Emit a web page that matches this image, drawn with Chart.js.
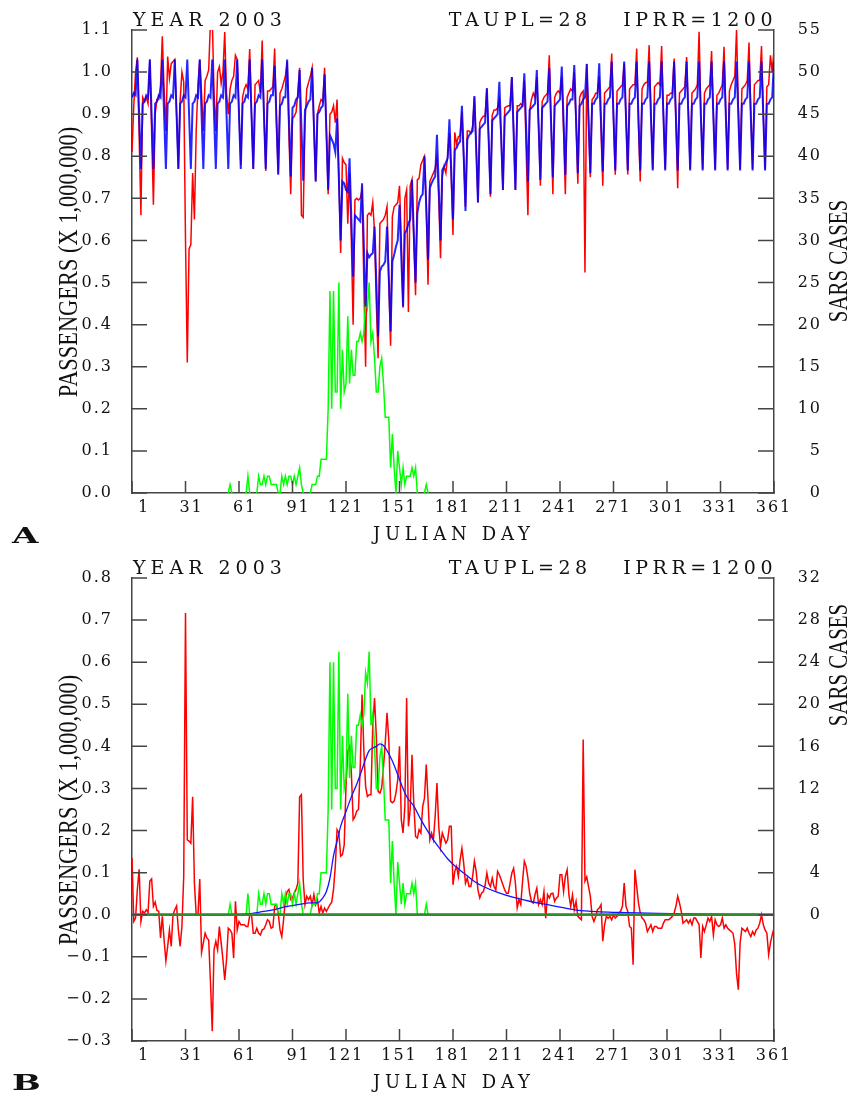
<!DOCTYPE html>
<html lang="en">
<head>
<meta charset="UTF-8">
<title>SARS and air passengers, 2003</title>
<script src="https://cdn.jsdelivr.net/npm/chart.js@4"></script>
<style>
  body { margin: 0; background: #fff; }
  .page { position: relative; width: 855px; height: 1095px; overflow: hidden; }
  canvas { position: absolute; left: 0; }
  .lbl { position: absolute; font-family: "DejaVu Serif", serif; color: #111; white-space: pre; line-height: 1; }
  .head { font-size: 19px; letter-spacing: 4.5px; }
  .year { letter-spacing: 5px; }
  .axt { font-size: 18px; letter-spacing: 4.7px; }
  .panel { font-size: 22px; font-weight: bold; transform: scaleX(1.55); transform-origin: left top; }
  .rot { position: absolute; font-family: "Liberation Serif", serif; font-size: 28px; line-height: 1; color: #111; white-space: nowrap; }
</style>
</head>
<body>
<div class="page">
  <canvas id="chartA" width="855" height="550" style="top:0"></canvas>
  <canvas id="chartB" width="855" height="545" style="top:550px"></canvas>

  <!-- panel A labels -->
  <div class="lbl head year" style="left:133px; top:10px">YEAR 2003</div>
  <div class="lbl head" style="right:78px; top:10px">TAUPL=28   IPRR=1200</div>
  <div class="lbl panel" style="left:12px; top:524px">A</div>
  <div class="lbl axt" style="left:373px; top:525px">JULIAN DAY</div>
  <div class="rot" style="left:68px; top:262px; transform:translate(-50%,-50%) rotate(-90deg) scaleX(0.8)">PASSENGERS (X 1,000,000)</div>
  <div class="rot" style="left:838px; top:261px; transform:translate(-50%,-50%) rotate(-90deg) scaleX(0.745)">SARS CASES</div>

  <!-- panel B labels -->
  <div class="lbl head year" style="left:133px; top:558px">YEAR 2003</div>
  <div class="lbl head" style="right:78px; top:558px">TAUPL=28   IPRR=1200</div>
  <div class="lbl panel" style="left:12px; top:1071px">B</div>
  <div class="lbl axt" style="left:373px; top:1073px">JULIAN DAY</div>
  <div class="rot" style="left:68px; top:810px; transform:translate(-50%,-50%) rotate(-90deg) scaleX(0.8)">PASSENGERS (X 1,000,000)</div>
  <div class="rot" style="left:838px; top:665px; transform:translate(-50%,-50%) rotate(-90deg) scaleX(0.745)">SARS CASES</div>
</div>

<script>
// tick labels
const xTicks = [1, 31, 61, 91, 121, 151, 181, 211, 241, 271, 301, 331, 361];
const yTicksA = [0, 0.1, 0.2, 0.3, 0.4, 0.5, 0.6, 0.7, 0.8, 0.9, 1.0, 1.1];
const casesTicksA = [0, 5, 10, 15, 20, 25, 30, 35, 40, 45, 50, 55];
const yTicksB = [-0.3, -0.2, -0.1, 0, 0.1, 0.2, 0.3, 0.4, 0.5, 0.6, 0.7, 0.8];
const casesTicksB = [0, 4, 8, 12, 16, 20, 24, 28, 32];

// panel A, observed passengers (millions), one row per week, day 1 first
const passObs = [
  0.81, 0.92, 1.0, 1.035, 0.85, 0.66, 0.94,
  0.93, 0.94, 0.925, 1.03, 0.86, 0.685, 0.90,
  0.935, 0.935, 0.97, 1.085, 0.96, 0.86, 1.037,
  0.985, 1.02, 1.025, 1.03, 0.90, 0.77, 0.934,
  1.0, 0.977, 0.60, 0.31, 0.58, 0.59, 0.76,
  0.65, 0.86, 0.97, 1.03, 0.95, 0.86, 0.98,
  0.99, 1.005, 1.12, 1.13, 0.95, 0.86, 1.0,
  1.013, 0.973, 1.0, 1.095, 0.95, 0.90, 0.96,
  0.98, 0.99, 1.04, 1.03, 0.90, 0.78, 0.94,
  0.96, 0.97, 0.96, 1.055, 0.90, 0.77, 0.97,
  0.975, 0.98, 0.95, 1.075, 0.90, 0.765, 0.955,
  0.955, 0.96, 0.965, 1.056, 0.88, 0.76, 0.95,
  0.96, 0.975, 0.99, 1.025, 0.85, 0.71, 0.89,
  0.895, 0.905, 0.95, 1.01, 0.66, 0.655, 0.88,
  0.96, 0.975, 0.99, 1.01, 0.87, 0.74, 0.90,
  0.92, 0.935, 0.93, 1.01, 0.86, 0.71, 0.90,
  0.905, 0.92, 0.88, 0.935, 0.75, 0.57, 0.795,
  0.785, 0.78, 0.64, 0.76, 0.60, 0.40, 0.696,
  0.70, 0.696, 0.70, 0.72, 0.50, 0.30, 0.66,
  0.665, 0.66, 0.69, 0.62, 0.45, 0.32, 0.64,
  0.645, 0.65, 0.66, 0.68, 0.50, 0.35, 0.657,
  0.68, 0.685, 0.69, 0.73, 0.60, 0.44, 0.70,
  0.72, 0.43, 0.73, 0.745, 0.60, 0.47, 0.744,
  0.748, 0.78, 0.79, 0.80, 0.68, 0.495, 0.74,
  0.75, 0.76, 0.77, 0.795, 0.70, 0.558, 0.752,
  0.776, 0.76, 0.80, 0.855, 0.75, 0.613, 0.857,
  0.83, 0.846, 0.85, 0.906, 0.80, 0.68, 0.86,
  0.86, 0.855, 0.87, 0.94, 0.82, 0.69, 0.88,
  0.89, 0.895, 0.895, 0.96, 0.84, 0.704, 0.898,
  0.91, 0.91, 0.915, 0.934, 0.84, 0.72, 0.915,
  0.918, 0.92, 0.92, 0.988, 0.86, 0.72, 0.92,
  0.92, 0.925, 0.92, 0.98, 0.82, 0.66, 0.91,
  0.935, 0.95, 0.94, 0.988, 0.87, 0.73, 0.93,
  0.94, 0.945, 0.95, 1.04, 0.88, 0.71, 0.94,
  0.95, 0.955, 0.95, 0.99, 0.86, 0.71, 0.94,
  0.95, 0.96, 0.955, 1.0, 0.88, 0.735, 0.94,
  0.95, 0.955, 0.524, 1.02, 0.88, 0.75, 0.935,
  0.94, 0.95, 0.95, 0.99, 0.86, 0.73, 0.95,
  0.955, 0.96, 0.965, 1.044, 0.89, 0.756, 0.955,
  0.96, 0.965, 0.97, 1.02, 0.89, 0.757, 0.96,
  0.965, 0.97, 0.97, 1.056, 0.87, 0.74, 0.96,
  0.97, 0.975, 0.975, 1.064, 0.90, 0.77, 0.965,
  0.97, 0.975, 0.97, 1.062, 0.90, 0.77, 0.945,
  0.945, 0.95, 0.95, 1.032, 0.88, 0.724, 0.95,
  0.955, 0.96, 0.965, 1.036, 0.90, 0.77, 0.95,
  0.955, 0.96, 0.97, 1.096, 0.90, 0.77, 0.95,
  0.96, 0.965, 0.97, 1.05, 0.90, 0.77, 0.945,
  0.95, 0.96, 0.97, 1.06, 0.90, 0.77, 0.955,
  0.97, 0.98, 0.99, 1.10, 0.92, 0.77, 0.96,
  0.965, 0.97, 0.98, 1.07, 0.90, 0.77, 0.97,
  0.975, 0.98, 0.98, 1.062, 0.90, 0.77, 0.965,
  0.97, 1.04, 1.0, 1.054
];

// panel A, model passengers (millions), one row per week
const passModel = [
  0.94, 0.95, 0.945, 1.03, 0.90, 0.77, 0.925,
  0.93, 0.945, 0.94, 1.03, 0.90, 0.77, 0.925,
  0.93, 0.945, 0.94, 1.03, 0.90, 0.77, 0.925,
  0.93, 0.945, 0.94, 1.03, 0.90, 0.77, 0.925,
  0.93, 0.945, 0.94, 1.03, 0.90, 0.77, 0.925,
  0.93, 0.945, 0.94, 1.03, 0.90, 0.77, 0.925,
  0.93, 0.945, 0.94, 1.03, 0.90, 0.77, 0.925,
  0.93, 0.945, 0.94, 1.03, 0.90, 0.77, 0.925,
  0.93, 0.945, 0.94, 1.03, 0.90, 0.77, 0.925,
  0.93, 0.945, 0.94, 1.03, 0.90, 0.77, 0.925,
  0.93, 0.945, 0.94, 1.03, 0.90, 0.77, 0.925,
  0.93, 0.945, 0.945, 1.015, 0.89, 0.756, 0.92,
  0.925, 0.94, 0.94, 1.03, 0.89, 0.752, 0.915,
  0.92, 0.935, 0.94, 1.005, 0.87, 0.742, 0.91,
  0.92, 0.93, 0.935, 1.01, 0.875, 0.74, 0.90,
  0.905, 0.915, 0.92, 0.995, 0.86, 0.72, 0.85,
  0.84, 0.83, 0.81, 0.89, 0.745, 0.60, 0.74,
  0.736, 0.72, 0.715, 0.795, 0.65, 0.514, 0.66,
  0.655, 0.65, 0.645, 0.736, 0.59, 0.443, 0.57,
  0.56, 0.566, 0.57, 0.633, 0.50, 0.372, 0.526,
  0.538, 0.542, 0.55, 0.633, 0.51, 0.384, 0.55,
  0.566, 0.585, 0.60, 0.685, 0.56, 0.443, 0.617,
  0.625, 0.64, 0.65, 0.744, 0.62, 0.50, 0.665,
  0.69, 0.704, 0.71, 0.80, 0.68, 0.554, 0.724,
  0.736, 0.745, 0.752, 0.851, 0.73, 0.60, 0.768,
  0.775, 0.785, 0.795, 0.888, 0.77, 0.65, 0.815,
  0.82, 0.83, 0.835, 0.92, 0.80, 0.67, 0.84,
  0.85, 0.855, 0.86, 0.943, 0.82, 0.69, 0.865,
  0.87, 0.875, 0.88, 0.962, 0.84, 0.71, 0.885,
  0.89, 0.895, 0.90, 0.977, 0.85, 0.72, 0.895,
  0.90, 0.905, 0.91, 0.988, 0.855, 0.72, 0.905,
  0.91, 0.915, 0.92, 0.997, 0.87, 0.74, 0.91,
  0.915, 0.92, 0.925, 1.005, 0.875, 0.744, 0.915,
  0.92, 0.925, 0.93, 1.009, 0.88, 0.75, 0.92,
  0.925, 0.93, 0.935, 1.013, 0.885, 0.756, 0.92,
  0.925, 0.935, 0.935, 1.017, 0.89, 0.76, 0.92,
  0.925, 0.935, 0.94, 1.019, 0.89, 0.76, 0.925,
  0.925, 0.935, 0.94, 1.021, 0.89, 0.764, 0.925,
  0.925, 0.935, 0.94, 1.025, 0.895, 0.766, 0.925,
  0.925, 0.935, 0.94, 1.025, 0.895, 0.766, 0.925,
  0.925, 0.935, 0.94, 1.025, 0.895, 0.766, 0.925,
  0.925, 0.935, 0.94, 1.025, 0.895, 0.766, 0.925,
  0.925, 0.935, 0.94, 1.025, 0.895, 0.766, 0.925,
  0.925, 0.935, 0.94, 1.025, 0.895, 0.766, 0.925,
  0.925, 0.935, 0.94, 1.025, 0.895, 0.766, 0.925,
  0.925, 0.935, 0.94, 1.025, 0.895, 0.766, 0.925,
  0.925, 0.935, 0.94, 1.025, 0.895, 0.766, 0.925,
  0.925, 0.935, 0.94, 1.025, 0.895, 0.766, 0.925,
  0.925, 0.935, 0.94, 1.025, 0.895, 0.766, 0.925,
  0.925, 0.935, 0.94, 1.025, 0.895, 0.766, 0.925,
  0.925, 0.935, 0.94, 1.025, 0.895, 0.766, 0.925,
  0.925, 0.935, 0.94, 1.025
];

// SARS cases per day (both panels), ten days per row
const sarsCases = [
  0, 0, 0, 0, 0, 0, 0, 0, 0, 0,
  0, 0, 0, 0, 0, 0, 0, 0, 0, 0,
  0, 0, 0, 0, 0, 0, 0, 0, 0, 0,
  0, 0, 0, 0, 0, 0, 0, 0, 0, 0,
  0, 0, 0, 0, 0, 0, 0, 0, 0, 0,
  0, 0, 0, 0, 0, 1, 0, 0, 0, 0,
  0, 0, 0, 0, 0, 2, 0, 0, 0, 0,
  0, 2, 1, 1, 2, 1, 2, 2, 1, 1,
  1, 1, 0, 0, 2, 1, 2, 1, 2, 2,
  1, 2, 1, 2, 3, 1, 0, 0, 0, 0,
  0, 1, 1, 1, 2, 2, 4, 4, 4, 4,
  10, 24, 10, 24, 12, 12, 25, 10, 17, 12,
  13, 21, 13, 17, 14, 14, 18, 18, 19, 18,
  19, 23, 22, 25, 18, 19, 16, 12, 12, 15,
  16, 13, 9, 9, 9, 3, 7, 3, 0, 5,
  3, 1, 3, 1, 2, 2, 2, 3, 2, 3,
  0, 0, 0, 0, 0, 1, 0, 0, 0, 0,
  0, 0, 0, 0, 0, 0, 0, 0, 0, 0,
  0, 0, 0, 0, 0, 0, 0, 0, 0, 0,
  0, 0, 0, 0, 0, 0, 0, 0, 0, 0,
  0, 0, 0, 0, 0, 0, 0, 0, 0, 0,
  0, 0, 0, 0, 0, 0, 0, 0, 0, 0,
  0, 0, 0, 0, 0, 0, 0, 0, 0, 0,
  0, 0, 0, 0, 0, 0, 0, 0, 0, 0,
  0, 0, 0, 0, 0, 0, 0, 0, 0, 0,
  0, 0, 0, 0, 0, 0, 0, 0, 0, 0,
  0, 0, 0, 0, 0, 0, 0, 0, 0, 0,
  0, 0, 0, 0, 0, 0, 0, 0, 0, 0,
  0, 0, 0, 0, 0, 0, 0, 0, 0, 0,
  0, 0, 0, 0, 0, 0, 0, 0, 0, 0,
  0, 0, 0, 0, 0, 0, 0, 0, 0, 0,
  0, 0, 0, 0, 0, 0, 0, 0, 0, 0,
  0, 0, 0, 0, 0, 0, 0, 0, 0, 0,
  0, 0, 0, 0, 0, 0, 0, 0, 0, 0,
  0, 0, 0, 0, 0, 0, 0, 0, 0, 0,
  0, 0, 0, 0, 0, 0, 0, 0, 0, 0,
  0
];

// panel B, passenger shortfall (millions), ten days per row
const passLoss = [
  0.135, -0.016, -0.008, 0.06, 0.108, -0.016, 0.008, 0.004, 0.012, 0.005,
  0.08, 0.085, 0.02, 0.03, 0.01, 0.008, -0.055, -0.004, -0.06, -0.11,
  -0.075, -0.036, -0.075, 0.0, 0.012, 0.021, -0.036, -0.075, -0.028, 0.09,
  0.717, 0.178, 0.175, 0.17, 0.28, 0.075, 0.0, 0.0, 0.085, -0.09,
  -0.067, -0.044, -0.055, -0.06, -0.16, -0.277, -0.083, -0.063, -0.083, -0.028,
  -0.067, -0.107, -0.155, -0.107, -0.032, -0.036, -0.044, -0.103, 0.032, -0.036,
  -0.016, -0.024, -0.024, -0.024, -0.028, -0.028, -0.002, 0.0, -0.044, -0.044,
  -0.032, -0.044, -0.048, -0.036, -0.034, -0.024, -0.012, -0.016, -0.032, -0.03,
  0.02, 0.024, 0.004, -0.036, -0.052, -0.012, 0.036, 0.055, 0.06, 0.036,
  0.04, 0.052, 0.06, 0.075, 0.28, 0.285, 0.083, 0.024, 0.044, 0.036,
  0.044, 0.024, 0.048, 0.024, 0.036, 0.004, 0.02, 0.004, 0.016, 0.008,
  0.016, 0.024, 0.03, 0.06, 0.115, 0.202, 0.194, 0.139, 0.143, 0.166,
  0.305, 0.388, 0.40, 0.337, 0.226, 0.233, 0.246, 0.25, 0.353, 0.523,
  0.392, 0.305, 0.281, 0.285, 0.285, 0.448, 0.515, 0.424, 0.293, 0.289,
  0.301, 0.35, 0.408, 0.48, 0.416, 0.27, 0.266, 0.27, 0.289, 0.32,
  0.40, 0.226, 0.194, 0.257, 0.515, 0.21, 0.25, 0.38, 0.265, 0.186,
  0.182, 0.202, 0.194, 0.257, 0.277, 0.357, 0.273, 0.178, 0.194, 0.178,
  0.234, 0.313, 0.21, 0.162, 0.194, 0.182, 0.17, 0.178, 0.21, 0.21,
  0.071, 0.103, 0.115, 0.091, 0.131, 0.158, 0.122, 0.075, 0.087, 0.067,
  0.067, 0.091, 0.127, 0.103, 0.059, 0.04, 0.051, 0.055, 0.07, 0.099,
  0.075, 0.067, 0.087, 0.067, 0.059, 0.103, 0.095, 0.083, 0.071, 0.059,
  0.051, 0.051, 0.075, 0.099, 0.11, 0.075, 0.016, 0.036, 0.024, 0.079,
  0.127, 0.115, 0.087, 0.051, 0.032, 0.028, 0.048, 0.063, 0.024, 0.036,
  0.024, 0.055, -0.008, 0.048, 0.04, 0.05, 0.051, 0.032, 0.04, 0.044,
  0.095, 0.095, 0.055, 0.091, 0.107, 0.047, 0.02, 0.047, 0.012, 0.032,
  -0.004, -0.008, -0.012, 0.416, 0.08, 0.09, 0.067, 0.044, -0.004, -0.016,
  -0.004, 0.012, 0.016, 0.024, -0.063, -0.024, -0.004, -0.008, -0.004, -0.012,
  0.0, -0.008, -0.004, 0.004, 0.008, 0.02, 0.075, 0.02, 0.008, -0.028,
  -0.032, -0.119, 0.107, 0.067, 0.028, 0.004, -0.008, -0.012, -0.02, -0.04,
  -0.032, -0.024, -0.04, -0.028, -0.028, -0.032, -0.032, -0.032, -0.02, -0.012,
  -0.012, -0.012, -0.008, -0.004, 0.004, 0.02, 0.044, 0.028, 0.008, -0.02,
  -0.016, -0.012, -0.02, -0.012, -0.024, -0.008, -0.008, -0.016, -0.024, -0.103,
  -0.028, -0.04, -0.024, -0.008, -0.016, -0.004, -0.048, -0.012, -0.024, -0.028,
  -0.024, -0.008, -0.032, -0.024, -0.032, -0.036, -0.04, -0.044, -0.07, -0.14,
  -0.178, -0.067, -0.032, -0.036, -0.04, -0.032, -0.044, -0.052, -0.04, -0.048,
  -0.036, -0.032, -0.02, 0.0, -0.024, -0.036, -0.044, -0.095, -0.067, -0.048,
  -0.032
];

// panel B, smooth SARS effect curve (millions), read at these days
const effectDays = [56, 66, 75, 81, 86, 94, 101, 105, 108, 110,
  112, 114, 116, 118, 121, 124, 127, 130, 132, 134,
  136, 138, 140, 142, 144, 147, 150, 152, 155, 159,
  163, 166, 170, 174, 178, 181, 187, 193, 198, 206,
  215, 224, 234, 241, 250, 259, 268, 278, 296, 315,
  340, 361];
const effect = [0, 0.002, 0.008, 0.012, 0.018, 0.024, 0.028, 0.028, 0.04, 0.055,
  0.087, 0.14, 0.175, 0.21, 0.245, 0.28, 0.31, 0.345, 0.37, 0.39,
  0.396, 0.4, 0.406, 0.402, 0.39, 0.365, 0.333, 0.31, 0.281, 0.258,
  0.226, 0.204, 0.178, 0.155, 0.133, 0.12, 0.099, 0.079, 0.067, 0.053,
  0.041, 0.032, 0.024, 0.018, 0.011, 0.008, 0.006, 0.005, 0.003, 0.002,
  0.001, 0.001];

const casesLineEnd = 352;   // day where the green base line in B stops

const days = [];
for (let d = 1; d <= 361; d++) days.push(d);

function xy(xs, ys) {
  return ys.map((v, i) => ({ x: xs[i], y: v }));
}

const tickFont = { family: 'DejaVu Serif', size: 16 };
const axisBorder = { display: true, color: '#444', width: 1.5 };
const skipZero = {
  borderColor: c => (c.p0.parsed.y === 0 && c.p1.parsed.y === 0) ? 'rgba(0,0,0,0)' : undefined
};
const oneDec = v => v < 0 ? '\u2212' + Math.abs(v).toFixed(1) : v.toFixed(1);

// ticks are drawn pointing into the plot
const innerTicks = {
  id: 'innerTicks',
  afterDraw(chart) {
    const { ctx, chartArea: a, scales } = chart;
    ctx.save();
    ctx.strokeStyle = '#444';
    ctx.lineWidth = 1.5;
    ctx.beginPath();
    scales.x.ticks.forEach(t => {
      const p = scales.x.getPixelForValue(t.value);
      ctx.moveTo(p, a.bottom); ctx.lineTo(p, a.bottom - 12);
    });
    scales.y.ticks.forEach(t => {
      const p = scales.y.getPixelForValue(t.value);
      ctx.moveTo(a.left, p); ctx.lineTo(a.left + 15, p);
    });
    scales.y2.ticks.forEach(t => {
      const p = scales.y2.getPixelForValue(t.value);
      ctx.moveTo(a.right, p); ctx.lineTo(a.right - 16, p);
    });
    ctx.stroke();
    ctx.restore();
  }
};

const spacing = {
  id: 'spacing',
  beforeUpdate(chart) { chart.ctx.letterSpacing = '2px'; },
  beforeDraw(chart) { chart.ctx.letterSpacing = '2px'; }
};

const zeroLine = {
  id: 'zeroLine',
  afterDatasetsDraw(chart) {
    const { ctx, chartArea: a, scales } = chart;
    const y0 = scales.y.getPixelForValue(0);
    ctx.save();
    ctx.lineWidth = 2.5;
    ctx.strokeStyle = '#555';
    ctx.beginPath(); ctx.moveTo(a.left, y0); ctx.lineTo(a.right, y0); ctx.stroke();
    ctx.strokeStyle = '#2e8b2e';
    ctx.beginPath(); ctx.moveTo(a.left, y0); ctx.lineTo(scales.x.getPixelForValue(casesLineEnd), y0); ctx.stroke();
    ctx.restore();
  }
};

function makePanel(id, cfg) {
  return new Chart(document.getElementById(id), {
    type: 'line',
    data: { datasets: cfg.datasets },
    options: {
      responsive: false,
      animation: false,
      devicePixelRatio: 1,
      layout: { padding: { left: 0, right: 33, top: cfg.top, bottom: 0 } },
      elements: { point: { radius: 0 }, line: { tension: 0 } },
      plugins: { legend: { display: false }, tooltip: { enabled: false } },
      scales: {
        x: {
          type: 'linear', min: 1, max: 361,
          afterBuildTicks: s => { s.ticks = xTicks.map(v => ({ value: v })); },
          afterFit: s => { s.height = cfg.xHeight; },
          grid: { display: false },
          border: axisBorder,
          ticks: {
            font: tickFont, color: '#111', padding: -3, maxRotation: 0, autoSkip: false,
            callback: v => String(v).padStart(3, '\u2007')
          }
        },
        y: {
          position: 'left', min: cfg.yMin, max: cfg.yMax,
          afterBuildTicks: s => { s.ticks = cfg.yTicks.map(v => ({ value: v })); },
          afterFit: s => { s.width = 132; },
          grid: { display: false },
          border: axisBorder,
          ticks: { font: tickFont, color: '#111', padding: 11, callback: oneDec }
        },
        y2: {
          position: 'right', min: cfg.cMin, max: cfg.cMax,
          afterBuildTicks: s => { s.ticks = cfg.cTicks.map(v => ({ value: v })); },
          afterFit: s => { s.width = 48; },
          grid: { display: false },
          border: axisBorder,
          ticks: { font: tickFont, color: '#111', crossAlign: 'far', callback: v => String(v) }
        }
      }
    },
    plugins: cfg.plugins
  });
}

makePanel('chartA', {
  top: 30, xHeight: 57,
  yMin: 0, yMax: 1.1, yTicks: yTicksA,
  cMin: 0, cMax: 55, cTicks: casesTicksA,
  plugins: [spacing, innerTicks],
  datasets: [
    { data: xy(days, passModel), borderColor: 'rgba(0,0,255,0.85)', borderWidth: 2, yAxisID: 'y', order: 0 },
    { data: xy(days, sarsCases), borderColor: '#00ff00', borderWidth: 1.5, yAxisID: 'y2', order: 1, segment: skipZero },
    { data: xy(days, passObs), borderColor: '#ff0000', borderWidth: 1.5, yAxisID: 'y', order: 2 }
  ]
});

makePanel('chartB', {
  top: 28, xHeight: 54,
  yMin: -0.3, yMax: 0.8, yTicks: yTicksB,
  cMin: -12, cMax: 32, cTicks: casesTicksB,
  plugins: [spacing, zeroLine, innerTicks],
  datasets: [
    { data: xy(effectDays, effect), borderColor: '#1414ff', borderWidth: 1.3, cubicInterpolationMode: 'monotone', yAxisID: 'y', order: 0 },
    { data: xy(days, sarsCases), borderColor: '#00ff00', borderWidth: 1.5, yAxisID: 'y2', order: 1, segment: skipZero },
    { data: xy(days, passLoss), borderColor: '#ff0000', borderWidth: 1.5, yAxisID: 'y', order: 2 }
  ]
});
</script>
</body>
</html>
